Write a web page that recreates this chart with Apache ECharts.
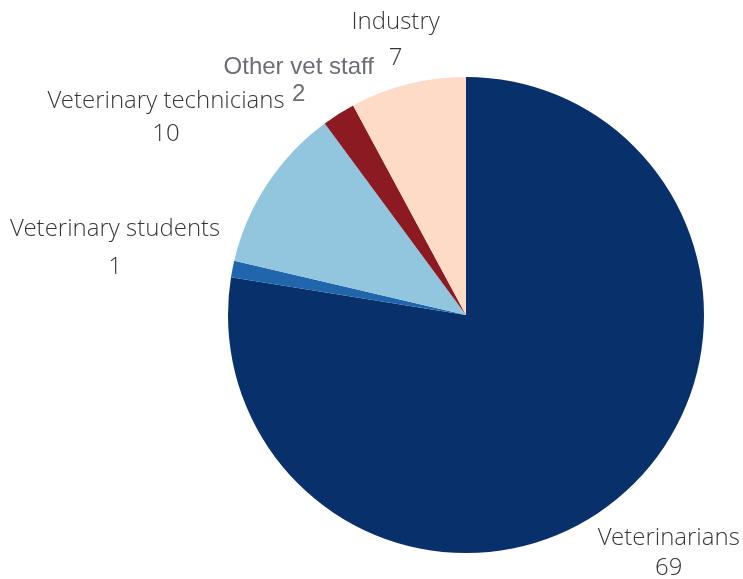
<!DOCTYPE html>
<html>
<head>
<meta charset="utf-8">
<script src="https://cdn.jsdelivr.net/npm/echarts@6/dist/echarts.min.js"></script>
<style>html,body{margin:0;padding:0;background:#fff;}#c{width:743px;height:579px;}</style>
</head>
<body>
<div id="c"></div>
<script>
var categories = ['Veterinarians', 'Veterinary students', 'Veterinary technicians', 'Other vet staff', 'Industry'];
var values = [69, 1, 10, 2, 7];
var colors = ['#08306b', '#2166ac', '#92c5de', '#8b1a22', '#fddbc7'];
var lineHeights = [30, 38, 33, 27, 36];
var labelNudge = [[1, 2], [-5, 2], [0, 1], [-4, 24], [0, 5]];

var chart = echarts.init(document.getElementById('c'), null, {renderer: 'canvas'});
var data = categories.map(function (name, i) {
  var item = {name: name, value: values[i], itemStyle: {color: colors[i]}, label: {lineHeight: lineHeights[i]}};
  if (name === 'Other vet staff') {
    item.label.fontFamily = 'Liberation Sans';
    item.label.fontWeight = 'normal';
    item.label.color = '#6b6e76';
  }
  return item;
});
var GAP = 4;
chart.setOption({
  animation: false,
  backgroundColor: '#ffffff',
  series: [{
    type: 'pie',
    center: [466, 315],
    radius: 238,
    startAngle: 90,
    clockwise: true,
    silent: true,
    data: data,
    label: {
      show: true,
      position: 'outside',
      overflow: 'none',
      formatter: '{b}\n{c}',
      fontFamily: 'Open Sans Light',
      fontSize: 24,
      color: '#363636',
      align: 'center'
    },
    labelLine: {show: false, length: 0, length2: 0},
    labelLayout: function (params) {
      var lay = chart.getModel().getSeriesByIndex(0).getData().getItemLayout(params.dataIndex);
      var mid = (lay.startAngle + lay.endAngle) / 2;
      var dx = Math.cos(mid), dy = Math.sin(mid);
      var w = params.labelRect.width, h = params.labelRect.height;
      var ext = Math.abs(dx) * w / 2 + Math.abs(dy) * h / 2;
      var d = lay.r + GAP + ext;
      var n = labelNudge[params.dataIndex];
      return {x: lay.cx + dx * d + n[0], y: lay.cy + dy * d + n[1], align: 'center', verticalAlign: 'middle'};
    }
  }]
});
</script>
</body>
</html>
